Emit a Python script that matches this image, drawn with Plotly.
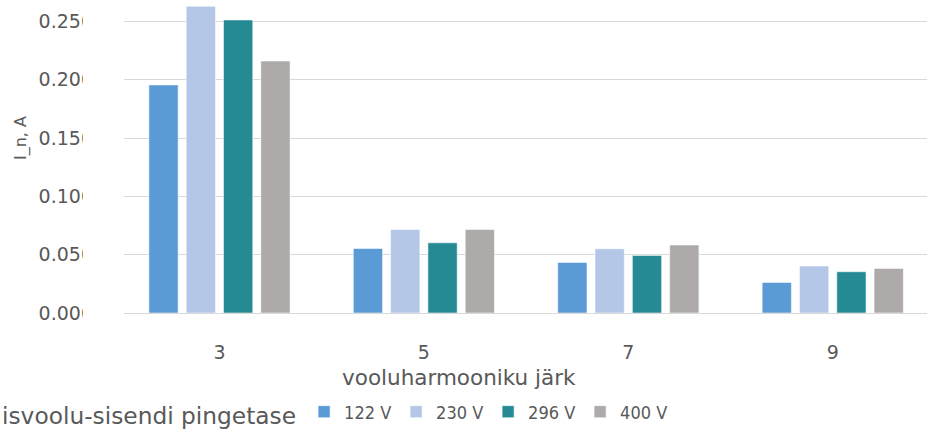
import plotly.graph_objects as go

categories = ["3", "5", "7", "9"]
series_names = ["122 V", "230 V", "296 V", "400 V"]
v122 = [0.1956, 0.0553, 0.0434, 0.0262]
v230 = [0.2630, 0.0716, 0.0551, 0.0403]
v296 = [0.2513, 0.0602, 0.0494, 0.0354]
v400 = [0.2161, 0.0716, 0.0583, 0.0382]
y_ticks = [0.0, 0.05, 0.10, 0.15, 0.20, 0.25]
y_ticktext = ["0.000", "0.050", "0.100", "0.150", "0.200", "0.250"]

colors = ["#5B9BD5", "#B4C7E7", "#268A94", "#AEAAAA"]
series = [v122, v230, v296, v400]

GREY = "#595959"
FONT = "DejaVu Sans"

fig = go.Figure()
for name, vals, col in zip(series_names, series, colors):
    fig.add_trace(go.Bar(
        x=categories, y=vals, name=name,
        marker=dict(color=col, line=dict(color="rgba(255,255,255,0.55)", width=1)),
    ))

W, H = 927, 430
ml, mr, mt, mb = 124, 0, 0, 117
pw = W - ml - mr
ph = H - mt - mb

fig.update_layout(
    width=W, height=H,
    margin=dict(l=ml, r=mr, t=mt, b=mb, pad=0, autoexpand=False),
    paper_bgcolor="white", plot_bgcolor="white",
    barmode="group", bargap=0.27, bargroupgap=0.215,
    font=dict(family=FONT, color=GREY, size=17),
    showlegend=True,
    legend=dict(
        orientation="h", xref="container", yref="container",
        x=-0.003, xanchor="left", y=(H - 414) / H, yanchor="middle",
        font=dict(family="DejaVu Sans Condensed", size=18, color=GREY),
        title=dict(text="isvoolu-sisendi pingetase", side="left",
                   font=dict(family=FONT, size=23.3, color=GREY)),
        itemwidth=30, entrywidth=47, entrywidthmode="pixels",
        traceorder="normal", bgcolor="rgba(0,0,0,0)",
    ),
    xaxis=dict(
        type="category", range=[-0.467, 3.461],
        showgrid=False, showline=True, linecolor="#D9D9D9", linewidth=1,
        ticks="", tickfont=dict(size=19, color=GREY, family=FONT),
        ticklabelstandoff=22,
    ),
    yaxis=dict(
        range=[0, 0.2684], tickmode="array", tickvals=y_ticks, ticktext=y_ticktext,
        showgrid=True, gridcolor="#D9D9D9", gridwidth=1,
        zeroline=False, showline=False, ticks="",
        tickfont=dict(size=19, color=GREY, family=FONT),
        ticklabelstandoff=30,
    ),
    annotations=[
        dict(text="vooluharmooniku järk", xref="paper", yref="paper",
             x=(459 - ml) / pw, y=-(377 - (H - mb)) / ph,
             xanchor="center", yanchor="middle", showarrow=False,
             font=dict(family=FONT, size=21.5, color=GREY)),
        dict(text="I_n, A", xref="paper", yref="paper", textangle=-90,
             x=(21 - ml) / pw, y=(ph - 138) / ph,
             xanchor="center", yanchor="middle", showarrow=False,
             font=dict(family=FONT, size=16, color=GREY)),
    ],
    shapes=[
        dict(type="rect", xref="paper", yref="paper", layer="above",
             x0=(83 - ml) / pw, x1=(121 - ml) / pw, y0=-0.06, y1=1.0,
             fillcolor="white", line=dict(width=0)),
    ],
)

fig.write_html("out.html", config={"displayModeBar": False},
               post_script="document.body.style.margin='0px';")
